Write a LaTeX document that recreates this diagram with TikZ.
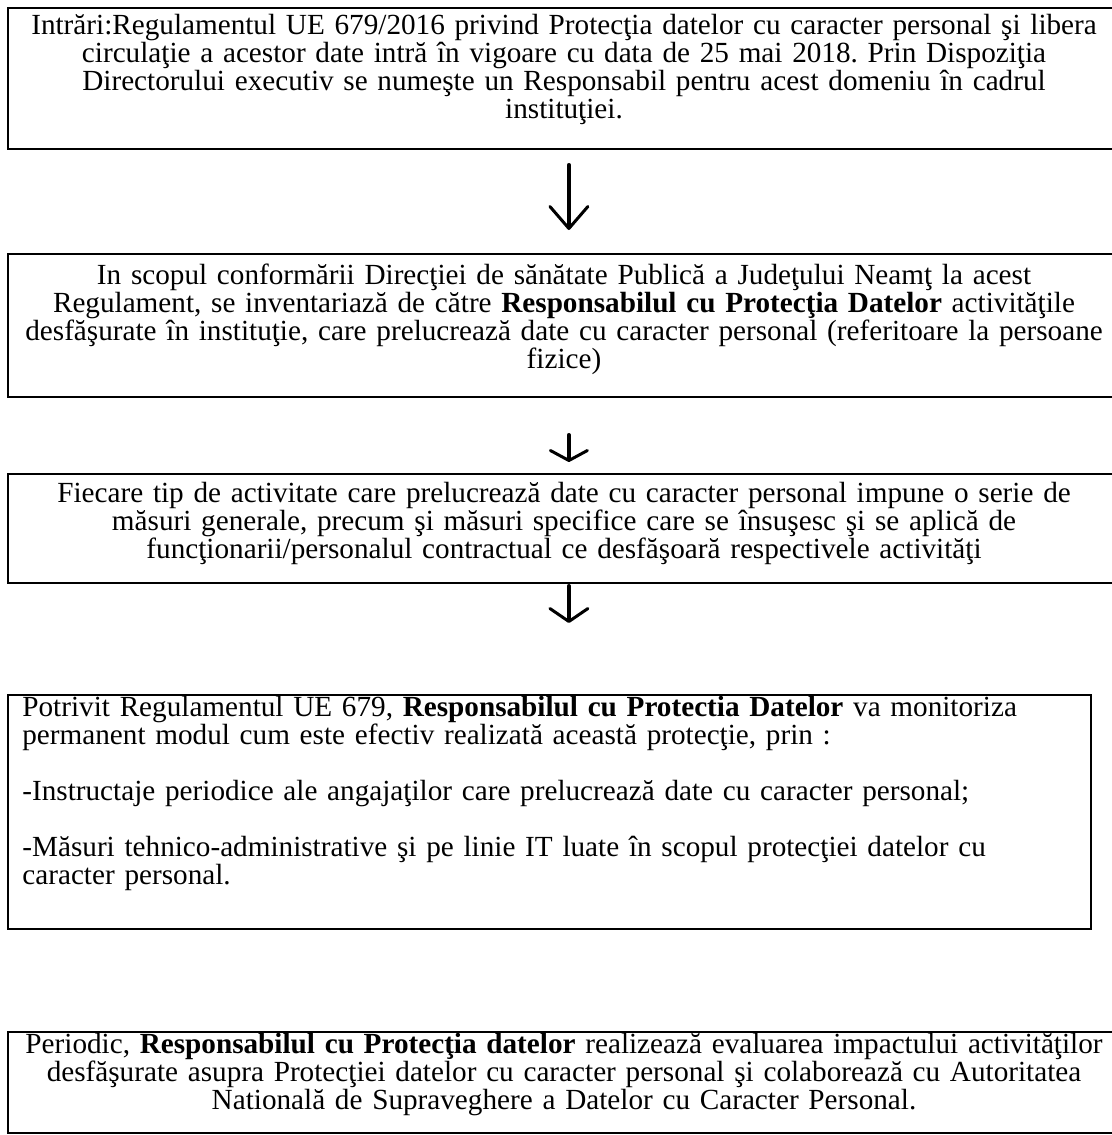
\documentclass[tikz,border=0pt]{standalone}
\usepackage{fontspec}
\setmainfont{Liberation Serif}
\usetikzlibrary{arrows.meta}
\frenchspacing
\tikzset{
  boxframe/.style={draw=black, line width=0.9pt},
  boxtext/.style={inner sep=0pt, font=\fontsize{14.6pt}{14pt}\selectfont\frenchspacing},
  ctext/.style={boxtext, text width=560pt, align=center, anchor=base},
  ltext/.style={boxtext, text width=540pt, align=left, anchor=base west},
  flowarrow/.style={line width=1.8pt, line cap=round},
}
\begin{document}
\begin{tikzpicture}[x=0.5pt,y=-0.5pt]
\useasboundingbox (0,0) rectangle (1112,1135);
\clip (0,0) rectangle (1112,1135);
\fill[white] (0,0) rectangle (1112,1135);

% boxes
\node[boxframe, minimum width=561pt, minimum height=70.5pt, inner sep=0pt, anchor=north west] (b1) at (7,7) {};
\node[boxframe, minimum width=561pt, minimum height=71.5pt, inner sep=0pt, anchor=north west] (b2) at (7,253) {};
\node[boxframe, minimum width=561pt, minimum height=54.5pt, inner sep=0pt, anchor=north west] (b3) at (7,473) {};
\node[boxframe, minimum width=541.5pt, minimum height=117pt, inner sep=0pt, anchor=north west] (b4) at (7,694) {};
\node[boxframe, minimum width=561pt, minimum height=50.5pt, inner sep=0pt, anchor=north west] (b5) at (7,1031) {};

% texts
\node[ctext] (t1) at (564,34) {Intrări:Regulamentul UE 679/2016 privind Protecţia datelor cu caracter personal şi libera\\
circulaţie a acestor date intră în vigoare cu data de 25 mai 2018. Prin Dispoziţia\\
Directorului executiv se numeşte un Responsabil pentru acest domeniu în cadrul\\
instituţiei.};

\node[ctext] (t2) at (564,284) {In scopul conformării Direcţiei de sănătate Publică a Judeţului Neamţ la acest\\
Regulament, se inventariază de către \textbf{Responsabilul cu Protecţia Datelor} activităţile\\
desfăşurate în instituţie, care prelucrează date cu caracter personal (referitoare la persoane\\
fizice)};

\node[ctext] (t3) at (564,502) {Fiecare tip de activitate care prelucrează date cu caracter personal impune o serie de\\
măsuri generale, precum şi măsuri specifice care se însuşesc şi se aplică de\\
funcţionarii/personalul contractual ce desfăşoară respectivele activităţi};

\node[ltext] (t4) at (22,716) {Potrivit Regulamentul UE 679, \textbf{Responsabilul cu Protectia Datelor} va monitoriza\\
permanent modul cum este efectiv realizată această protecţie, prin :\\[14pt]
-Instructaje periodice ale angajaţilor care prelucrează date cu caracter personal;\\[14pt]
-Măsuri tehnico-administrative şi pe linie IT luate în scopul protecţiei datelor cu\\
caracter personal.};

\node[ctext] (t5) at (564,1053) {Periodic, \textbf{Responsabilul cu Protecţia datelor} realizează evaluarea impactului activităţilor\\
desfăşurate asupra Protecţiei datelor cu caracter personal şi colaborează cu Autoritatea\\
Natională de Supraveghere a Datelor cu Caracter Personal.};

% arrows
\draw[flowarrow, -{Straight Barb[length=11pt, width=19pt, line width=1.5pt, round]}, shorten <=7.5pt, shorten >=11.5pt] (b1.south) -- (b2.north);
\draw[flowarrow, -{Straight Barb[length=5pt, width=18.5pt, line width=1.5pt, round]}, shorten <=18.5pt, shorten >=5.5pt] (b2.south) -- (b3.north);
\draw[flowarrow, -{Straight Barb[length=6.5pt, width=19pt, line width=1.5pt, round]}, shorten <=1pt, shorten >=35.5pt] (b3.south) -- (b4.north -| b3.south);
\end{tikzpicture}
\end{document}
